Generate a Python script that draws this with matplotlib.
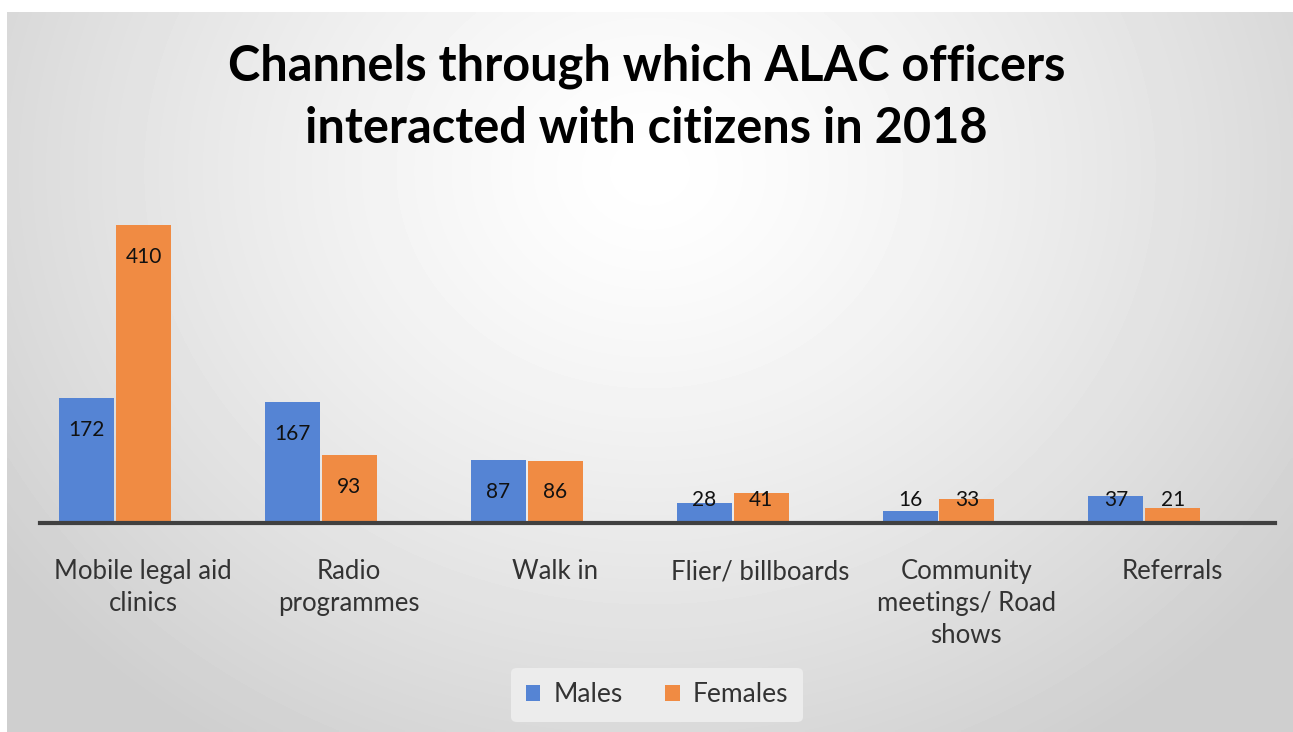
import numpy as np
import matplotlib
matplotlib.use("Agg")
import matplotlib.pyplot as plt

categories = ["Mobile legal aid\nclinics", "Radio\nprogrammes", "Walk in",
              "Flier/ billboards", "Community\nmeetings/ Road\nshows", "Referrals"]
males = [172, 167, 87, 28, 16, 37]
females = [410, 93, 86, 41, 33, 21]
series_names = ["Males", "Females"]
title = "Channels through which ALAC officers\ninteracted with citizens in 2018"

BLUE = "#5584D4"
ORANGE = "#F08B43"
FONT = "Lato"

W, H = 1293, 732
fig = plt.figure(figsize=(W / 100, H / 100), dpi=100)
fig.patch.set_facecolor("white")

# background radial gradient panel
bg = fig.add_axes([7 / W, 0, 1 - 7 / W, (H - 12) / H], zorder=-10)
gx = np.linspace(0, 1, 400)
gy = np.linspace(0, 1, 240)
X, Y = np.meshgrid(gx, gy)
r = np.sqrt(((X - 0.5) / 0.62) ** 2 + ((Y - 0.22) / 0.95) ** 2)
val = 1.0 - 0.19 * np.clip(r, 0, 1) ** 1.3
bg.imshow(val, cmap="gray", vmin=0, vmax=1, aspect="auto", extent=[0, 1, 1, 0],
          interpolation="bilinear")
bg.axis("off")

# main axes
left, right = 40 / W, 1275 / W
bottom = (H - 523) / H
top = (H - 196) / H
ax = fig.add_axes([left, bottom, right - left, top - bottom])
ax.patch.set_alpha(0)
x = np.arange(len(categories))
w = 0.267
shift = -0.135
b1 = ax.bar(x + shift - 0.138, males, w, color=BLUE, label=series_names[0], zorder=3)
b2 = ax.bar(x + shift + 0.138, females, w, color=ORANGE, label=series_names[1], zorder=3)
ax.set_xlim(-0.5, len(categories) - 0.5)
ax.set_ylim(0, 450)
for s in ["top", "right", "left"]:
    ax.spines[s].set_visible(False)
ax.spines["bottom"].set_color("#404040")
ax.spines["bottom"].set_linewidth(3)
ax.spines["bottom"].set_zorder(5)
ax.set_yticks([])
ax.set_xticks(x)
ax.set_xticklabels(categories, fontsize=18.5, family=FONT, color="#333333",
                   linespacing=1.35, va="top")
ax.tick_params(axis="x", length=0, pad=26)

for bars, vals in ((b1, males), (b2, females)):
    for rect, v in zip(bars, vals):
        yl = max(v - 44, 32)
        ax.text(rect.get_x() + rect.get_width() / 2, yl, str(v), ha="center",
                va="center", fontsize=15, family=FONT, color="#111111", zorder=6)

fig.text(0.5, (H - 97) / H, title, ha="center", va="center", fontsize=35,
         fontweight="bold", family=FONT, color="black", linespacing=1.45)

leg = fig.legend(handles=[b1, b2], labels=series_names, loc="center",
                 bbox_to_anchor=(657 / W, (H - 695) / H), ncol=2, frameon=True,
                 prop={"family": FONT, "size": 19}, handlelength=0.55,
                 handleheight=0.55, columnspacing=1.6, handletextpad=0.5,
                 borderpad=0.55, borderaxespad=0)
leg.get_frame().set_facecolor("#ececec")
leg.get_frame().set_edgecolor("none")
leg.get_frame().set_alpha(1)
for t in leg.get_texts():
    t.set_color("#333333")

fig.savefig("out.png", dpi=100, facecolor="white")
